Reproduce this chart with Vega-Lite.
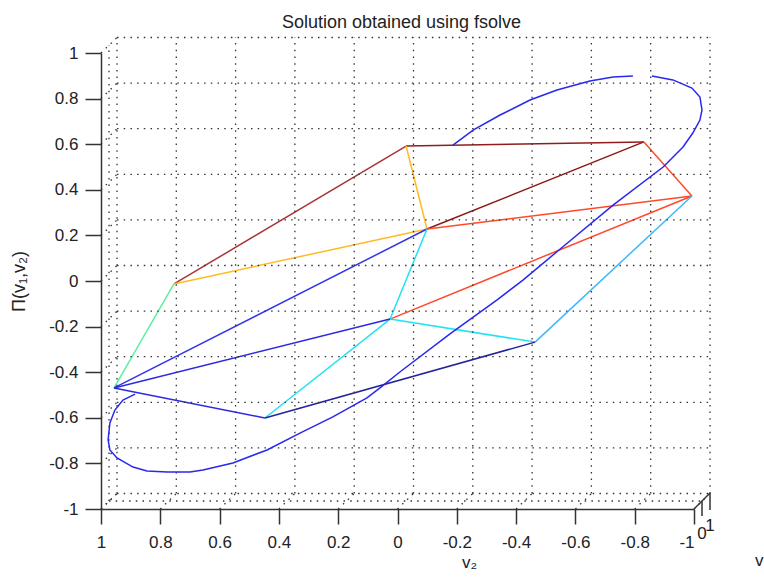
{
  "$schema": "https://vega.github.io/schema/vega-lite/v6.json",
  "width": 593,
  "height": 456,
  "autosize": {"type": "none"},
  "padding": {"left": 101, "top": 53, "right": 70, "bottom": 68},
  "background": "white",
  "title": {
    "text": "Solution obtained using fsolve",
    "frame": "group",
    "anchor": "middle",
    "font": "Liberation Sans",
    "fontSize": 18,
    "fontWeight": "normal",
    "color": "#222222",
    "baseline": "alphabetic",
    "offset": -9,
    "dx": 4
  },
  "config": {"view": {"stroke": null}},
  "datasets": {
    "ticks": [
      {"t": -1}, {"t": -0.8}, {"t": -0.6}, {"t": -0.4}, {"t": -0.2}, {"t": 0},
      {"t": 0.2}, {"t": 0.4}, {"t": 0.6}, {"t": 0.8}, {"t": 1}
    ],
    "one": [{}],
    "edges": [
      {"edge": "A-D", "x": 0.754, "y": -0.013, "x2": -0.029, "y2": 0.592},
      {"edge": "D-F", "x": -0.029, "y": 0.592, "x2": -0.831, "y2": 0.610},
      {"edge": "F-E", "x": -0.831, "y": 0.610, "x2": -0.0995, "y2": 0.228},
      {"edge": "A-B", "x": 0.754, "y": -0.013, "x2": 0.956, "y2": -0.469},
      {"edge": "A-E", "x": 0.754, "y": -0.013, "x2": -0.0995, "y2": 0.228},
      {"edge": "D-E", "x": -0.029, "y": 0.592, "x2": -0.0995, "y2": 0.228},
      {"edge": "E-G", "x": -0.0995, "y": 0.228, "x2": -0.993, "y2": 0.373},
      {"edge": "F-G", "x": -0.831, "y": 0.610, "x2": -0.993, "y2": 0.373},
      {"edge": "H-G", "x": 0.025, "y": -0.167, "x2": -0.993, "y2": 0.373},
      {"edge": "B-E", "x": 0.956, "y": -0.469, "x2": -0.0995, "y2": 0.228},
      {"edge": "E-H", "x": -0.0995, "y": 0.228, "x2": 0.025, "y2": -0.167},
      {"edge": "H-C", "x": 0.025, "y": -0.167, "x2": 0.447, "y2": -0.601},
      {"edge": "H-I", "x": 0.025, "y": -0.167, "x2": -0.464, "y2": -0.268},
      {"edge": "I-G", "x": -0.464, "y": -0.268, "x2": -0.993, "y2": 0.373},
      {"edge": "B-H", "x": 0.956, "y": -0.469, "x2": 0.025, "y2": -0.167},
      {"edge": "B-C", "x": 0.956, "y": -0.469, "x2": 0.447, "y2": -0.601},
      {"edge": "C-I", "x": 0.447, "y": -0.601, "x2": -0.464, "y2": -0.268}
    ],
    "curve": [
      {"seg": 1, "i": 1, "x": 0.885, "y": -0.496},
      {"seg": 1, "i": 2, "x": 0.926, "y": -0.522},
      {"seg": 1, "i": 3, "x": 0.953, "y": -0.566},
      {"seg": 1, "i": 4, "x": 0.970, "y": -0.623},
      {"seg": 1, "i": 5, "x": 0.976, "y": -0.697},
      {"seg": 1, "i": 6, "x": 0.970, "y": -0.741},
      {"seg": 1, "i": 7, "x": 0.946, "y": -0.776},
      {"seg": 1, "i": 8, "x": 0.892, "y": -0.816},
      {"seg": 1, "i": 9, "x": 0.845, "y": -0.833},
      {"seg": 1, "i": 10, "x": 0.777, "y": -0.838},
      {"seg": 1, "i": 11, "x": 0.700, "y": -0.838},
      {"seg": 1, "i": 12, "x": 0.656, "y": -0.829},
      {"seg": 1, "i": 13, "x": 0.555, "y": -0.798},
      {"seg": 1, "i": 14, "x": 0.440, "y": -0.741},
      {"seg": 1, "i": 15, "x": 0.329, "y": -0.667},
      {"seg": 1, "i": 16, "x": 0.218, "y": -0.596},
      {"seg": 1, "i": 17, "x": 0.103, "y": -0.513},
      {"seg": 1, "i": 18, "x": 0.059, "y": -0.469},
      {"seg": 1, "i": 19, "x": -0.008, "y": -0.399},
      {"seg": 1, "i": 20, "x": -0.177, "y": -0.232},
      {"seg": 1, "i": 21, "x": -0.336, "y": -0.083},
      {"seg": 1, "i": 22, "x": -0.423, "y": 0.004},
      {"seg": 1, "i": 23, "x": -0.565, "y": 0.158},
      {"seg": 1, "i": 24, "x": -0.727, "y": 0.333},
      {"seg": 1, "i": 25, "x": -0.896, "y": 0.500},
      {"seg": 1, "i": 26, "x": -0.963, "y": 0.588},
      {"seg": 1, "i": 27, "x": -0.996, "y": 0.649},
      {"seg": 1, "i": 28, "x": -1.020, "y": 0.706},
      {"seg": 1, "i": 29, "x": -1.027, "y": 0.750},
      {"seg": 1, "i": 30, "x": -1.020, "y": 0.807},
      {"seg": 1, "i": 31, "x": -0.993, "y": 0.846},
      {"seg": 1, "i": 32, "x": -0.929, "y": 0.882},
      {"seg": 1, "i": 33, "x": -0.858, "y": 0.899},
      {"seg": 2, "i": 1, "x": -0.794, "y": 0.899},
      {"seg": 2, "i": 2, "x": -0.727, "y": 0.895},
      {"seg": 2, "i": 3, "x": -0.649, "y": 0.877},
      {"seg": 2, "i": 4, "x": -0.538, "y": 0.838},
      {"seg": 2, "i": 5, "x": -0.447, "y": 0.794},
      {"seg": 2, "i": 6, "x": -0.346, "y": 0.728},
      {"seg": 2, "i": 7, "x": -0.255, "y": 0.662},
      {"seg": 2, "i": 8, "x": -0.187, "y": 0.596}
    ]
  },
  "layer": [
    {
      "description": "mesh edges, carrying the axes of the plot",
      "data": {"name": "edges"},
      "mark": {"type": "rule", "strokeWidth": 1.5},
      "encoding": {
        "x": {
          "field": "x", "type": "quantitative",
          "scale": {"domain": [-1, 1], "reverse": true, "nice": false, "zero": false},
          "axis": {
            "values": [-1, -0.8, -0.6, -0.4, -0.2, 0, 0.2, 0.4, 0.6, 0.8, 1],
            "labelExpr": "'' + datum.value",
            "labelAlign": {"condition": {"test": "datum.value == -1", "value": "right"}, "value": "center"},
            "grid": false,
            "domainColor": "#333333", "domainWidth": 1.5,
            "tickColor": "#333333", "tickWidth": 1.5, "tickSize": 15,
            "labelFont": "Liberation Sans", "labelFontSize": 17, "labelColor": "#222222",
            "labelPadding": 10, "labelFlush": false, "labelOverlap": false,
            "title": "v₂",
            "titleFont": "Liberation Sans", "titleFontSize": 17, "titleFontWeight": "normal", "titleColor": "#222222",
            "titleX": 368, "titleY": 58, "titleAlign": "center", "titleBaseline": "alphabetic"
          }
        },
        "x2": {"field": "x2"},
        "y": {
          "field": "y", "type": "quantitative",
          "scale": {"domain": [-1, 1], "nice": false, "zero": false},
          "axis": {
            "values": [-1, -0.8, -0.6, -0.4, -0.2, 0, 0.2, 0.4, 0.6, 0.8, 1],
            "labelExpr": "'' + datum.value",
            "grid": false,
            "domainColor": "#333333", "domainWidth": 1.5,
            "tickColor": "#333333", "tickWidth": 1.5, "tickSize": 16,
            "labelFont": "Liberation Sans", "labelFontSize": 17, "labelColor": "#222222",
            "labelPadding": 7, "labelFlush": false, "labelOverlap": false,
            "title": "Π(v₁,v₂)",
            "titleFont": "Liberation Sans", "titleFontSize": 18, "titleFontWeight": "normal", "titleColor": "#222222",
            "titlePadding": 20
          }
        },
        "y2": {"field": "y2"},
        "color": {
          "field": "edge", "type": "nominal", "legend": null,
          "scale": {
            "domain": ["A-D", "D-F", "F-E", "A-B", "A-E", "D-E", "E-G", "F-G", "H-G", "B-E", "E-H", "H-C", "H-I", "I-G", "B-H", "B-C", "C-I"],
            "range": ["#a83434", "#921c1c", "#8a1818", "#60eea0", "#ffbb22", "#ffbb22", "#ff4a2a", "#ff4a2a", "#ff4a2a", "#3434ec", "#22e2f2", "#22e2f2", "#22e2f2", "#3cb8ff", "#2a2ae0", "#2a2ae0", "#24249c"]
          }
        }
      }
    },
    {
      "description": "back wall grid, vertical lines",
      "data": {"name": "ticks"},
      "mark": {"type": "rule", "color": "#333333", "strokeWidth": 1.3, "strokeDash": [1.5, 5.2], "xOffset": 16, "yOffset": -15.5, "y2Offset": -15.5},
      "encoding": {
        "x": {"field": "t", "type": "quantitative"},
        "y": {"datum": -1, "type": "quantitative"},
        "y2": {"datum": 1}
      }
    },
    {
      "description": "back wall grid, horizontal lines",
      "data": {"name": "ticks"},
      "mark": {"type": "rule", "color": "#333333", "strokeWidth": 1.3, "strokeDash": [1.5, 5.2], "xOffset": 16, "x2Offset": 16, "yOffset": -15.5},
      "encoding": {
        "y": {"field": "t", "type": "quantitative"},
        "x": {"datum": 1, "type": "quantitative"},
        "x2": {"datum": -1}
      }
    },
    {
      "description": "side wall, middle depth line",
      "data": {"name": "one"},
      "mark": {"type": "rule", "color": "#333333", "strokeWidth": 1.3, "strokeDash": [1.5, 5.2], "xOffset": 8, "yOffset": -8, "y2Offset": -8},
      "encoding": {
        "x": {"datum": 1, "type": "quantitative"},
        "y": {"datum": -1, "type": "quantitative"},
        "y2": {"datum": 1}
      }
    },
    {
      "description": "floor, middle depth line",
      "data": {"name": "one"},
      "mark": {"type": "rule", "color": "#333333", "strokeWidth": 1.3, "strokeDash": [1.5, 5.2], "xOffset": 8, "x2Offset": 8, "yOffset": -8},
      "encoding": {
        "y": {"datum": -1, "type": "quantitative"},
        "x": {"datum": 1, "type": "quantitative"},
        "x2": {"datum": -1}
      }
    },
    {
      "description": "floor grid running into depth",
      "data": {"name": "ticks"},
      "mark": {"type": "rule", "color": "#333333", "strokeWidth": 1.3, "strokeDash": [1.5, 5.2], "x2Offset": 16, "y2Offset": -15.5},
      "encoding": {
        "x": {"field": "t", "type": "quantitative"},
        "x2": {"field": "t"},
        "y": {"datum": -1, "type": "quantitative"},
        "y2": {"datum": -1}
      }
    },
    {
      "description": "side wall grid running into depth",
      "data": {"name": "ticks"},
      "mark": {"type": "rule", "color": "#333333", "strokeWidth": 1.3, "strokeDash": [1.5, 5.2], "x2Offset": 16, "y2Offset": -15.5},
      "encoding": {
        "y": {"field": "t", "type": "quantitative"},
        "y2": {"field": "t"},
        "x": {"datum": 1, "type": "quantitative"},
        "x2": {"datum": 1}
      }
    },
    {
      "description": "v1 depth axis line",
      "data": {"name": "one"},
      "mark": {"type": "rule", "color": "#333333", "strokeWidth": 1.5, "x2Offset": 16, "y2Offset": -16},
      "encoding": {
        "x": {"datum": -1, "type": "quantitative"},
        "x2": {"datum": -1},
        "y": {"datum": -1, "type": "quantitative"},
        "y2": {"datum": -1}
      }
    },
    {
      "description": "v1 tick at 0",
      "data": {"name": "one"},
      "mark": {"type": "rule", "color": "#333333", "strokeWidth": 1.5, "xOffset": 8, "yOffset": -8, "y2Offset": 7},
      "encoding": {
        "x": {"datum": -1, "type": "quantitative"},
        "y": {"datum": -1, "type": "quantitative"},
        "y2": {"datum": -1}
      }
    },
    {
      "description": "v1 tick at 1",
      "data": {"name": "one"},
      "mark": {"type": "rule", "color": "#333333", "strokeWidth": 1.5, "xOffset": 16, "yOffset": -16, "y2Offset": 1},
      "encoding": {
        "x": {"datum": -1, "type": "quantitative"},
        "y": {"datum": -1, "type": "quantitative"},
        "y2": {"datum": -1}
      }
    },
    {
      "description": "v1 tick label 0",
      "data": {"name": "one"},
      "mark": {"type": "text", "text": "0", "font": "Liberation Sans", "fontSize": 17, "color": "#222222", "align": "center", "baseline": "middle", "dx": 8, "dy": 25},
      "encoding": {
        "x": {"datum": -1, "type": "quantitative"},
        "y": {"datum": -1, "type": "quantitative"}
      }
    },
    {
      "description": "v1 tick label 1",
      "data": {"name": "one"},
      "mark": {"type": "text", "text": "1", "font": "Liberation Sans", "fontSize": 17, "color": "#222222", "align": "center", "baseline": "middle", "dx": 16, "dy": 17},
      "encoding": {
        "x": {"datum": -1, "type": "quantitative"},
        "y": {"datum": -1, "type": "quantitative"}
      }
    },
    {
      "description": "v1 axis title",
      "data": {"name": "one"},
      "mark": {"type": "text", "text": "v₁", "font": "Liberation Sans", "fontSize": 17, "color": "#222222", "align": "left", "baseline": "alphabetic", "dx": 61, "dy": 57},
      "encoding": {
        "x": {"datum": -1, "type": "quantitative"},
        "y": {"datum": -1, "type": "quantitative"}
      }
    },
    {
      "description": "solution curve",
      "data": {"name": "curve"},
      "mark": {"type": "line", "color": "#2828ee", "strokeWidth": 1.5},
      "encoding": {
        "x": {"field": "x", "type": "quantitative"},
        "y": {"field": "y", "type": "quantitative"},
        "detail": {"field": "seg", "type": "nominal"},
        "order": {"field": "i", "type": "quantitative"}
      }
    }
  ]
}
